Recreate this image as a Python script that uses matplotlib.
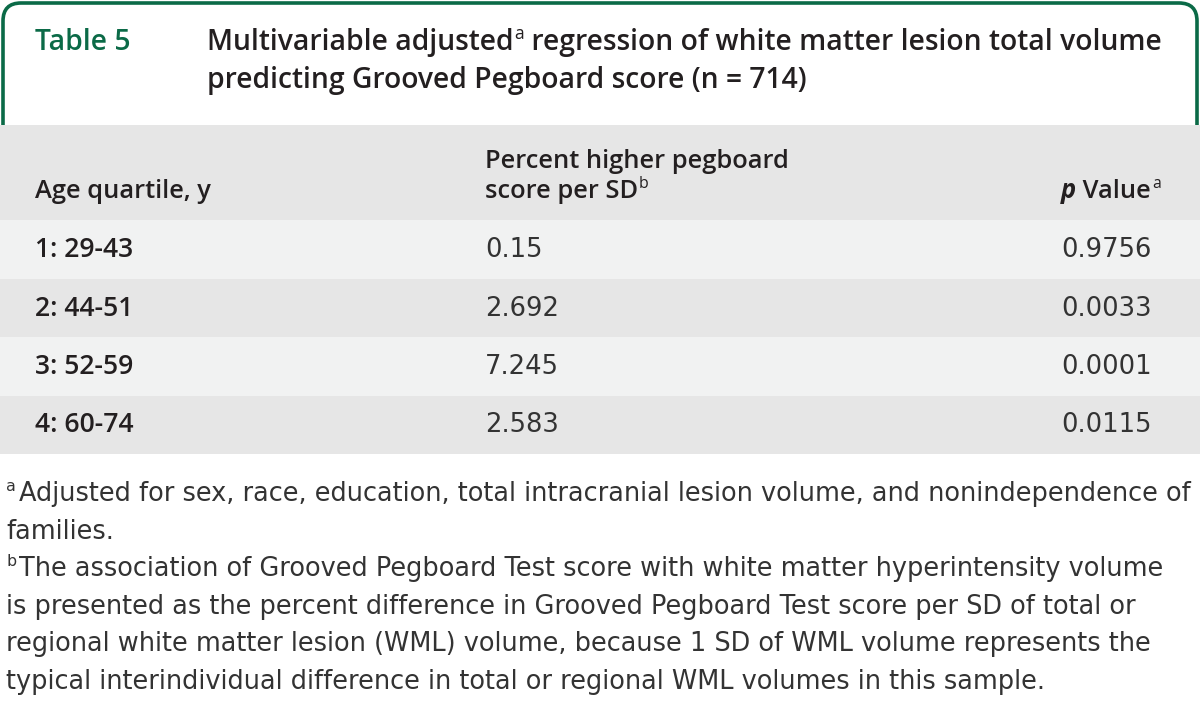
import matplotlib
matplotlib.use("Agg")
import matplotlib.pyplot as plt
from matplotlib.path import Path
from matplotlib.patches import PathPatch, Rectangle

# table content
table_label = "Table 5"
title_1a = "Multivariable adjusted"
title_1b = " regression of white matter lesion total volume"
title_2 = "predicting Grooved Pegboard score (n = 714)"
col_headers = ["Age quartile, y", "Percent higher pegboard", "score per SD", "Value"]
age_quartiles = ["1: 29-43", "2: 44-51", "3: 52-59", "4: 60-74"]
pct_higher = [0.15, 2.692, 7.245, 2.583]
p_values = [0.9756, 0.0033, 0.0001, 0.0115]
footnote_a = "Adjusted for sex, race, education, total intracranial lesion volume, and nonindependence of"
footnote_a2 = "families."
footnote_b = [
    "The association of Grooved Pegboard Test score with white matter hyperintensity volume",
    "is presented as the percent difference in Grooved Pegboard Test score per SD of total or",
    "regional white matter lesion (WML) volume, because 1 SD of WML volume represents the",
    "typical interindividual difference in total or regional WML volumes in this sample.",
]

GREEN = "#0b6a47"
DARK = "#231f20"
BODY = "#333333"
GRAY_HEAD = "#e6e6e6"
GRAY_LIGHT = "#f1f2f2"

HEAD_FONT = "Open Sans"
BODY_FONT = "DejaVu Sans"

W, H = 1200, 708
fig = plt.figure(figsize=(W / 100, H / 100), dpi=100)
ax = fig.add_axes([0, 0, 1, 1])
ax.set_xlim(0, W)
ax.set_ylim(H, 0)
ax.axis("off")
renderer = fig.canvas.get_renderer()


def size_for(text, target_w, **kw):
    t = ax.text(0, 0, text, size=10, **kw)
    w = t.get_window_extent(renderer).width
    t.remove()
    return 10 * target_w / w


head_kw = dict(family=HEAD_FONT, weight="semibold")
body_kw = dict(family=BODY_FONT)

title_size = size_for(title_1a + title_1b, 945, **head_kw)
head_size = size_for(col_headers[1], 305, **head_kw)
label_size = head_size * 1.04
val_size = size_for("0.9756", 90, **body_kw)
foot_size = min(size_for(footnote_a, 1176, **body_kw),
                size_for(footnote_b[0], 1176, **body_kw),
                size_for(footnote_b[1], 1187, **body_kw),
                size_for(footnote_b[2], 1187, **body_kw))


def run(x, y, text, size, color=DARK, sup=False, **kw):
    if sup:
        y -= size * 0.55
        size *= 0.62
    t = ax.text(x, y, text, ha="left", va="baseline", size=size, color=color, **kw)
    return x + t.get_window_extent(renderer).width


# header frame with rounded top corners
r = 18
verts = [(3, 126), (3, 3 + r), (3, 3), (3 + r, 3), (W - 3 - r, 3), (W - 3, 3),
         (W - 3, 3 + r), (W - 3, 126)]
codes = [Path.MOVETO, Path.LINETO, Path.CURVE3, Path.CURVE3, Path.LINETO,
         Path.CURVE3, Path.CURVE3, Path.LINETO]
ax.add_patch(PathPatch(Path(verts, codes), fill=False, edgecolor=GREEN, lw=2.6))

run(35, 50, table_label, title_size, color=GREEN, **head_kw)
x = run(207, 50, title_1a, title_size, **head_kw)
x = run(x + 1, 50, "a", title_size, sup=True, family=HEAD_FONT)
run(x, 50, title_1b, title_size, **head_kw)
run(207, 88, title_2, title_size, **head_kw)

# table backgrounds
ax.add_patch(Rectangle((0, 125), W, 95, color=GRAY_HEAD, lw=0))
row_top = 220
row_h = 58.5
for i in range(len(age_quartiles)):
    ax.add_patch(Rectangle((0, row_top + i * row_h), W, row_h,
                           color=GRAY_LIGHT if i % 2 == 0 else GRAY_HEAD, lw=0))

col_x = [35, 485, 1061]
run(col_x[0], 198, col_headers[0], head_size, **head_kw)
run(col_x[1], 168, col_headers[1], head_size, **head_kw)
x = run(col_x[1], 198, col_headers[2], head_size, **head_kw)
run(x + 1, 198, "b", head_size, sup=True, family=HEAD_FONT)
x = run(col_x[2], 198, "p", head_size, style="italic", family=HEAD_FONT, weight="bold")
x = run(x, 198, " " + col_headers[3], head_size, **head_kw)
run(x + 1, 198, "a", head_size, sup=True, family=HEAD_FONT)

for i, (age, pct, p) in enumerate(zip(age_quartiles, pct_higher, p_values)):
    yb = row_top + i * row_h + 37
    run(col_x[0], yb, age, label_size, **head_kw)
    run(col_x[1], yb, str(pct), val_size, color=BODY, **body_kw)
    run(col_x[2], yb, f"{p:.4f}", val_size, color=BODY, **body_kw)

# footnotes
fy = 501
step = 37.6
x = run(6, fy, "a", foot_size, color=BODY, sup=True, **body_kw)
run(x + 3, fy, footnote_a, foot_size, color=BODY, **body_kw)
run(6, fy + step, footnote_a2, foot_size, color=BODY, **body_kw)
x = run(6, fy + 2 * step, "b", foot_size, color=BODY, sup=True, **body_kw)
run(x + 3, fy + 2 * step, footnote_b[0], foot_size, color=BODY, **body_kw)
for k, line in enumerate(footnote_b[1:]):
    run(6, fy + (3 + k) * step, line, foot_size, color=BODY, **body_kw)

fig.savefig("out.png", dpi=100, facecolor="white")
